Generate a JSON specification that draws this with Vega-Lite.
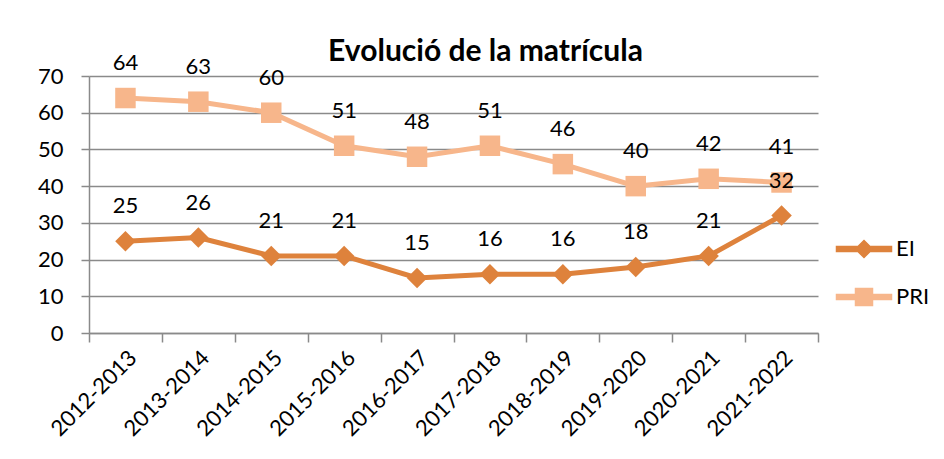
{
  "$schema": "https://vega.github.io/schema/vega-lite/v6.json",
  "width": 729,
  "height": 257,
  "autosize": {"type": "none"},
  "padding": {"left": 89, "top": 76, "right": 126, "bottom": 126},
  "background": "white",
  "title": {
    "text": "Evolució de la matrícula",
    "font": "Lato",
    "fontSize": 30,
    "fontWeight": "bold",
    "color": "black",
    "anchor": "middle",
    "dx": 32,
    "dy": 31,
    "offset": 16
  },
  "data": {
    "values": [
      {"curs": "2012-2013", "serie": "EI", "valor": 25},
      {"curs": "2013-2014", "serie": "EI", "valor": 26},
      {"curs": "2014-2015", "serie": "EI", "valor": 21},
      {"curs": "2015-2016", "serie": "EI", "valor": 21},
      {"curs": "2016-2017", "serie": "EI", "valor": 15},
      {"curs": "2017-2018", "serie": "EI", "valor": 16},
      {"curs": "2018-2019", "serie": "EI", "valor": 16},
      {"curs": "2019-2020", "serie": "EI", "valor": 18},
      {"curs": "2020-2021", "serie": "EI", "valor": 21},
      {"curs": "2021-2022", "serie": "EI", "valor": 32},
      {"curs": "2012-2013", "serie": "PRI", "valor": 64},
      {"curs": "2013-2014", "serie": "PRI", "valor": 63},
      {"curs": "2014-2015", "serie": "PRI", "valor": 60},
      {"curs": "2015-2016", "serie": "PRI", "valor": 51},
      {"curs": "2016-2017", "serie": "PRI", "valor": 48},
      {"curs": "2017-2018", "serie": "PRI", "valor": 51},
      {"curs": "2018-2019", "serie": "PRI", "valor": 46},
      {"curs": "2019-2020", "serie": "PRI", "valor": 40},
      {"curs": "2020-2021", "serie": "PRI", "valor": 42},
      {"curs": "2021-2022", "serie": "PRI", "valor": 41}
    ]
  },
  "encoding": {
    "x": {
      "field": "curs",
      "type": "ordinal",
      "scale": {"type": "band", "paddingInner": 0, "paddingOuter": 0},
      "axis": {
        "title": null,
        "labelAngle": -45,
        "labelFont": "Lato",
        "labelFontSize": 22,
        "labelColor": "black",
        "labelPadding": 5,
        "tickBand": "extent",
        "tickSize": 9,
        "tickColor": "#8a8a8a",
        "tickWidth": 1.5,
        "domainColor": "#8a8a8a",
        "domainWidth": 1.5,
        "grid": false
      }
    },
    "y": {
      "field": "valor",
      "type": "quantitative",
      "scale": {"domain": [0, 70], "nice": false},
      "axis": {
        "title": null,
        "values": [0, 10, 20, 30, 40, 50, 60, 70],
        "labelFont": "Lato",
        "labelFontSize": 22,
        "labelColor": "black",
        "labelPadding": 18,
        "tickSize": 8,
        "tickColor": "#8a8a8a",
        "tickWidth": 1.5,
        "domainColor": "#8a8a8a",
        "domainWidth": 1.5,
        "grid": true,
        "gridColor": "#8a8a8a",
        "gridWidth": 1.5
      }
    },
    "color": {
      "field": "serie",
      "type": "nominal",
      "scale": {"domain": ["EI", "PRI"], "range": ["#DE823C", "#F7B68B"]},
      "legend": {
        "title": null,
        "orient": "none",
        "legendX": 764,
        "legendY": 162,
        "labelFont": "Lato",
        "labelFontSize": 22,
        "labelColor": "black",
        "labelOffset": 21,
        "symbolSize": 100,
        "rowPadding": 24,
        "encode": {
          "symbols": {
            "update": {
              "shape": {"signal": "datum.value === 'EI' ? 'M-5.5,-0.5H5.5V0.5H-5.5ZM0,-1.7L1.7,0L0,1.7L-1.7,0Z' : 'M-5.5,-0.5H5.5V0.5H-5.5ZM-1.7,-1.7H1.7V1.7H-1.7Z'"},
              "fill": {"scale": "color", "field": "value"},
              "stroke": {"value": "transparent"},
              "fillOpacity": {"value": 1},
              "opacity": {"value": 1}
            }
          }
        }
      }
    }
  },
  "layer": [
    {"mark": {"type": "line", "strokeWidth": 5}},
    {
      "transform": [{"filter": "datum.serie === 'EI'"}],
      "mark": {"type": "point", "filled": true, "shape": "diamond", "size": 420, "opacity": 1}
    },
    {
      "transform": [{"filter": "datum.serie === 'PRI'"}],
      "mark": {"type": "point", "filled": true, "shape": "square", "size": 420, "opacity": 1}
    },
    {
      "mark": {"type": "text", "font": "Lato", "fontSize": 22, "color": "black", "baseline": "alphabetic", "dy": -28},
      "encoding": {
        "text": {"field": "valor", "type": "quantitative"},
        "color": {"value": "black"}
      }
    }
  ],
  "config": {"view": {"stroke": null}}
}
